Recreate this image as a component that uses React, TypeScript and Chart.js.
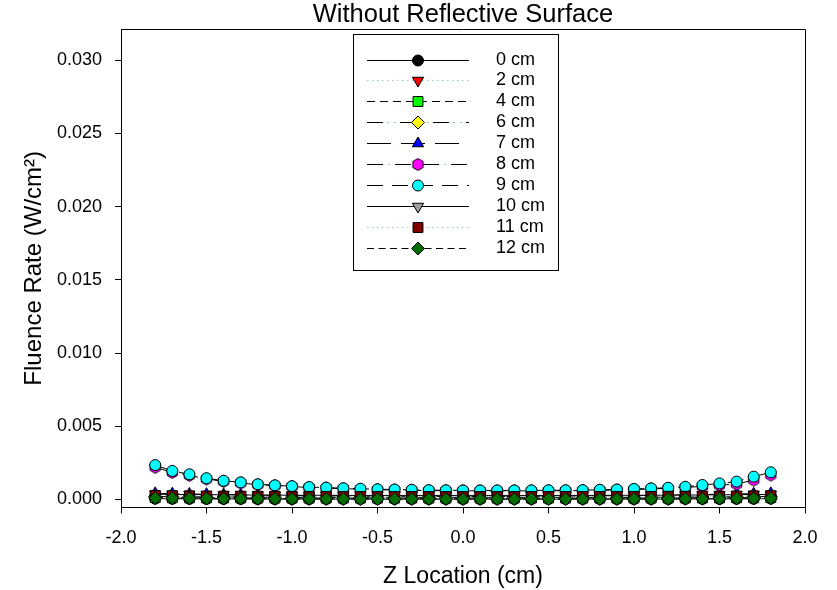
import React, { useEffect, useRef } from 'react';
import { Chart, registerables } from 'chart.js';

Chart.register(...registerables);

const chartTitle = 'Without Reflective Surface';
const xTitle = 'Z Location (cm)';
const yTitle = 'Fluence Rate (W/cm\u00B2)';

const xTicks = [-2.0, -1.5, -1.0, -0.5, 0.0, 0.5, 1.0, 1.5, 2.0];
const yTicks = [0.0, 0.005, 0.01, 0.015, 0.02, 0.025, 0.03];

const zLocations = [
  -1.8, -1.7, -1.6, -1.5, -1.4, -1.3, -1.2, -1.1, -1.0, -0.9, -0.8, -0.7, -0.6,
  -0.5, -0.4, -0.3, -0.2, -0.1, 0.0, 0.1, 0.2, 0.3, 0.4, 0.5, 0.6, 0.7, 0.8,
  0.9, 1.0, 1.1, 1.2, 1.3, 1.4, 1.5, 1.6, 1.7, 1.8,
];

const seriesLabels = ['0 cm', '2 cm', '4 cm', '6 cm', '7 cm', '8 cm', '9 cm', '10 cm', '11 cm', '12 cm'];

const cm0 = [
  0.00006, 0.00005, 0.00005, 0.00004, 0.00004, 0.00004, 0.00003, 0.00003, 0.00003, 0.00003,
  0.00003, 0.00003, 0.00003, 0.00003, 0.00003, 0.00003, 0.00003, 0.00003, 0.00003, 0.00003,
  0.00003, 0.00003, 0.00003, 0.00003, 0.00003, 0.00003, 0.00003, 0.00003, 0.00003, 0.00003,
  0.00003, 0.00004, 0.00004, 0.00004, 0.00005, 0.00005, 0.00006,
];
const cm2 = [
  0.00009, 0.00008, 0.00008, 0.00007, 0.00007, 0.00007, 0.00006, 0.00006, 0.00006, 0.00006,
  0.00006, 0.00006, 0.00006, 0.00006, 0.00006, 0.00006, 0.00006, 0.00006, 0.00006, 0.00006,
  0.00006, 0.00006, 0.00006, 0.00006, 0.00006, 0.00006, 0.00006, 0.00006, 0.00006, 0.00006,
  0.00006, 0.00007, 0.00007, 0.00007, 0.00008, 0.00008, 0.00009,
];
const cm4 = [
  0.00013, 0.00012, 0.00012, 0.00011, 0.00011, 0.00011, 0.0001, 0.0001, 0.0001, 0.0001,
  0.0001, 0.0001, 0.0001, 0.0001, 0.0001, 0.0001, 0.0001, 0.0001, 0.0001, 0.0001,
  0.0001, 0.0001, 0.0001, 0.0001, 0.0001, 0.0001, 0.0001, 0.0001, 0.0001, 0.0001,
  0.0001, 0.00011, 0.00011, 0.00011, 0.00012, 0.00012, 0.00013,
];
const cm6 = [
  0.00021, 0.0002, 0.00019, 0.00018, 0.00017, 0.00017, 0.00016, 0.00016, 0.00015, 0.00015,
  0.00015, 0.00015, 0.00015, 0.00015, 0.00015, 0.00015, 0.00015, 0.00015, 0.00015, 0.00015,
  0.00015, 0.00015, 0.00015, 0.00015, 0.00015, 0.00015, 0.00015, 0.00015, 0.00015, 0.00016,
  0.00016, 0.00017, 0.00017, 0.00018, 0.00019, 0.0002, 0.00021,
];
const cm7 = [
  0.00042, 0.0004, 0.00038, 0.00036, 0.00034, 0.00032, 0.0003, 0.00028, 0.00027, 0.00026,
  0.00025, 0.00024, 0.00023, 0.00022, 0.00022, 0.00021, 0.00021, 0.00021, 0.0002, 0.00021,
  0.00021, 0.00021, 0.00022, 0.00022, 0.00023, 0.00024, 0.00025, 0.00026, 0.00027, 0.00028,
  0.0003, 0.00032, 0.00034, 0.00036, 0.00038, 0.0004, 0.00042,
];
const cm8 = [
  0.0022, 0.00185, 0.00165, 0.0014, 0.00124, 0.00113, 0.00101, 0.00094, 0.00088, 0.00082,
  0.00078, 0.00074, 0.0007, 0.00067, 0.00065, 0.00063, 0.00061, 0.0006, 0.00059, 0.00059,
  0.00059, 0.00059, 0.00059, 0.0006, 0.0006, 0.00061, 0.00063, 0.00065, 0.00068, 0.00072,
  0.00076, 0.00082, 0.0009, 0.00098, 0.00105, 0.00133, 0.00167,
];
const cm9 = [
  0.00235, 0.00195, 0.00172, 0.00145, 0.00128, 0.00117, 0.00104, 0.00097, 0.00091, 0.00085,
  0.00081, 0.00077, 0.00073, 0.0007, 0.00068, 0.00066, 0.00064, 0.00063, 0.00062, 0.00062,
  0.00062, 0.00062, 0.00062, 0.00063, 0.00063, 0.00064, 0.00066, 0.00068, 0.00072, 0.00076,
  0.0008, 0.00087, 0.00099, 0.0011, 0.00122, 0.00156, 0.00186,
];
const cm10 = [
  0.00036, 0.00035, 0.00034, 0.00033, 0.00032, 0.00031, 0.0003, 0.0003, 0.00029, 0.00029,
  0.00029, 0.00028, 0.00028, 0.00028, 0.00028, 0.00028, 0.00028, 0.00028, 0.00028, 0.00028,
  0.00028, 0.00028, 0.00028, 0.00028, 0.00028, 0.00028, 0.00028, 0.00029, 0.00029, 0.00029,
  0.0003, 0.0003, 0.00031, 0.00032, 0.00033, 0.00034, 0.00035,
];
const cm11 = [
  0.00027, 0.00026, 0.00025, 0.00024, 0.00023, 0.00023, 0.00022, 0.00022, 0.00021, 0.00021,
  0.00021, 0.0002, 0.0002, 0.0002, 0.0002, 0.0002, 0.0002, 0.0002, 0.0002, 0.0002,
  0.0002, 0.0002, 0.0002, 0.0002, 0.0002, 0.0002, 0.0002, 0.00021, 0.00021, 0.00021,
  0.00022, 0.00022, 0.00023, 0.00023, 0.00024, 0.00025, 0.00026,
];
const cm12 = [
  0.0001, 0.00009, 0.00008, 0.00007, 0.00006, 0.00006, 0.00005, 0.00005, 0.00004, 0.00004,
  0.00004, 0.00004, 0.00003, 0.00003, 0.00003, 0.00003, 0.00003, 0.00003, 0.00003, 0.00003,
  0.00003, 0.00003, 0.00003, 0.00003, 0.00003, 0.00003, 0.00003, 0.00004, 0.00004, 0.00004,
  0.00004, 0.00005, 0.00005, 0.00006, 0.00007, 0.00008, 0.00009,
];

const seriesValues = [cm0, cm2, cm4, cm6, cm7, cm8, cm9, cm10, cm11, cm12];

const FONT = '"Liberation Sans", Arial, sans-serif';
const DOT = 'rgb(140,205,205)';

type Style = {
  fill: string;
  line: string;
  dash: number[];
  dots?: { dash: number[]; offset: number };
  marker: 'circle' | 'triangle' | 'rect' | 'rectRot' | 'hexagon';
  rotation: number;
  radius: number;
};

const styles: Style[] = [
  { fill: '#000000', line: '#000000', dash: [], marker: 'circle', rotation: 0, radius: 5.5 },
  { fill: '#ff0000', line: DOT, dash: [1.5, 3.5], marker: 'triangle', rotation: 180, radius: 6.5 },
  { fill: '#00ff00', line: '#000000', dash: [8, 5], marker: 'rect', rotation: 0, radius: 7 },
  { fill: '#ffff00', line: '#000000', dash: [16, 17], dots: { dash: [2, 5, 2, 24], offset: 13 }, marker: 'rectRot', rotation: 0, radius: 6.5 },
  { fill: '#0000ff', line: '#000000', dash: [24, 10], marker: 'triangle', rotation: 0, radius: 6.5 },
  { fill: '#ff00ff', line: '#000000', dash: [16, 12], dots: { dash: [2, 26], offset: 7 }, marker: 'hexagon', rotation: 0, radius: 6 },
  { fill: '#00ffff', line: '#000000', dash: [16, 9], marker: 'circle', rotation: 0, radius: 5.5 },
  { fill: '#a0a0a0', line: '#000000', dash: [], marker: 'triangle', rotation: 180, radius: 6.5 },
  { fill: '#800000', line: DOT, dash: [1.5, 3.5], marker: 'rect', rotation: 0, radius: 7 },
  { fill: '#006e00', line: '#000000', dash: [7, 4.5], marker: 'rectRot', rotation: 0, radius: 6.5 },
];

function makeHexagon(fill: string, r: number): HTMLCanvasElement {
  const size = Math.ceil(r * 2 + 3);
  const c = document.createElement('canvas');
  c.width = size;
  c.height = size;
  const ctx = c.getContext('2d')!;
  const cx = size / 2;
  const cy = size / 2;
  ctx.beginPath();
  for (let k = 0; k < 6; k++) {
    const a = -Math.PI / 2 + (k * Math.PI) / 3;
    const px = cx + Math.cos(a) * r;
    const py = cy + Math.sin(a) * r;
    if (k === 0) ctx.moveTo(px, py);
    else ctx.lineTo(px, py);
  }
  ctx.closePath();
  ctx.fillStyle = fill;
  ctx.fill();
  ctx.strokeStyle = '#000';
  ctx.lineWidth = 1;
  ctx.stroke();
  return c;
}

function drawMarker(ctx: CanvasRenderingContext2D, s: Style, x: number, y: number, hex: HTMLCanvasElement) {
  const r = s.radius;
  if (s.marker === 'hexagon') {
    ctx.drawImage(hex, x - hex.width / 2, y - hex.height / 2);
    return;
  }
  ctx.beginPath();
  if (s.marker === 'circle') {
    ctx.arc(x, y, r, 0, Math.PI * 2);
  } else if (s.marker === 'triangle') {
    let a = (s.rotation * Math.PI) / 180;
    ctx.moveTo(x + Math.sin(a) * r, y - Math.cos(a) * r);
    a += (2 * Math.PI) / 3;
    ctx.lineTo(x + Math.sin(a) * r, y - Math.cos(a) * r);
    a += (2 * Math.PI) / 3;
    ctx.lineTo(x + Math.sin(a) * r, y - Math.cos(a) * r);
  } else if (s.marker === 'rect') {
    const h = Math.SQRT1_2 * r;
    ctx.rect(x - h, y - h, 2 * h, 2 * h);
  } else if (s.marker === 'rectRot') {
    ctx.moveTo(x, y - r);
    ctx.lineTo(x + r, y);
    ctx.lineTo(x, y + r);
    ctx.lineTo(x - r, y);
  }
  ctx.closePath();
  ctx.fillStyle = s.fill;
  ctx.fill();
  ctx.strokeStyle = '#000';
  ctx.lineWidth = 1;
  ctx.stroke();
}

export default function App() {
  const ref = useRef<HTMLCanvasElement | null>(null);

  useEffect(() => {
    if (!ref.current) return;
    const hexImg = makeHexagon(styles[5].fill, styles[5].radius);

    const datasets = seriesLabels.map((label, i) => {
      const s = styles[i];
      return {
        label,
        data: zLocations.map((z, k) => ({ x: z, y: seriesValues[i][k] })),
        borderColor: s.line,
        borderWidth: 1,
        borderDash: s.dash,
        backgroundColor: s.fill,
        pointBackgroundColor: s.fill,
        pointBorderColor: '#000000',
        pointBorderWidth: 1,
        pointStyle: s.marker === 'hexagon' ? hexImg : s.marker,
        pointRotation: s.rotation,
        pointRadius: s.radius,
        pointHoverRadius: s.radius,
        tension: 0,
        fill: false,
        order: seriesLabels.length - 1 - i,
      };
    });

    const framePlugin = {
      id: 'frameAndLegend',
      afterDraw(chart: any) {
        const ctx: CanvasRenderingContext2D = chart.ctx;
        const a = chart.chartArea;
        ctx.save();
        ctx.strokeStyle = '#000';
        ctx.lineWidth = 1;
        ctx.setLineDash([]);
        ctx.beginPath();
        ctx.moveTo(Math.round(a.left) + 0.5, Math.round(a.top) + 0.5);
        ctx.lineTo(Math.round(a.right) + 0.5, Math.round(a.top) + 0.5);
        ctx.lineTo(Math.round(a.right) + 0.5, Math.round(a.bottom) + 0.5);
        ctx.stroke();

        // legend box
        const bx = 353.5, by = 34.5, bw = 205, bh = 236;
        ctx.fillStyle = '#fff';
        ctx.fillRect(bx, by, bw, bh);
        ctx.strokeRect(bx, by, bw, bh);
        const lineX0 = 367, lineX1 = 469, markX = 418, textX = 496;
        ctx.font = `18px ${FONT}`;
        ctx.textBaseline = 'middle';
        ctx.textAlign = 'left';
        seriesLabels.forEach((label, i) => {
          const s = styles[i];
          const y = Math.round(59.5 + i * 20.9) + 0.5;
          ctx.beginPath();
          ctx.setLineDash(s.dash);
          ctx.lineDashOffset = 0;
          ctx.strokeStyle = s.line;
          ctx.lineWidth = 1;
          ctx.moveTo(lineX0, y);
          ctx.lineTo(lineX1, y);
          ctx.stroke();
          if (s.dots) {
            ctx.beginPath();
            ctx.setLineDash(s.dots.dash);
            ctx.lineDashOffset = s.dots.offset;
            ctx.strokeStyle = DOT;
            ctx.moveTo(lineX0, y);
            ctx.lineTo(lineX1, y);
            ctx.stroke();
            ctx.lineDashOffset = 0;
          }
          ctx.setLineDash([]);
          drawMarker(ctx, s, markX, y, hexImg);
          ctx.fillStyle = '#000';
          ctx.fillText(label, textX, y);
        });
        ctx.restore();
      },
    };

    const chart = new Chart(ref.current, {
      type: 'line',
      data: { datasets: datasets as any },
      plugins: [framePlugin],
      options: {
        animation: false,
        responsive: false,
        devicePixelRatio: 1,
        layout: { padding: { left: 0, right: 32, top: 0, bottom: 0 } },
        plugins: {
          legend: { display: false },
          tooltip: { enabled: false },
          title: {
            display: true,
            text: chartTitle,
            color: '#000',
            fullSize: false,
            font: { family: FONT, size: 25.5, weight: 'normal', lineHeight: 1.1 },
            padding: { top: 1, bottom: 0 },
          },
        },
        scales: {
          x: {
            type: 'linear',
            min: -2,
            max: 2,
            afterBuildTicks: (s: any) => {
              s.ticks = xTicks.map((v) => ({ value: v }));
            },
            afterFit: (s: any) => {
              s.height = 82.5;
            },
            ticks: {
              color: '#000',
              font: { family: FONT, size: 18 },
              padding: 14,
              maxRotation: 0,
              autoSkip: false,
              callback: (v: any) => Number(v).toFixed(1),
            },
            grid: {
              display: true,
              drawOnChartArea: false,
              drawTicks: true,
              tickLength: 6,
              color: '#000',
            },
            border: { display: true, color: '#000', width: 1 },
            title: {
              display: true,
              text: xTitle,
              color: '#000',
              font: { family: FONT, size: 23, lineHeight: 1.2 },
              padding: { top: 0, bottom: 0 },
            },
          },
          y: {
            type: 'linear',
            min: -0.000546,
            max: 0.032116,
            afterBuildTicks: (s: any) => {
              s.ticks = yTicks.map((v) => ({ value: v }));
            },
            afterFit: (s: any) => {
              s.width = 121;
            },
            ticks: {
              color: '#000',
              font: { family: FONT, size: 18 },
              padding: 13,
              autoSkip: false,
              callback: (v: any) => Number(v).toFixed(3),
            },
            grid: {
              display: true,
              drawOnChartArea: false,
              drawTicks: true,
              tickLength: 6,
              color: '#000',
            },
            border: { display: true, color: '#000', width: 1 },
            title: {
              display: true,
              text: yTitle,
              color: '#000',
              font: { family: FONT, size: 24, lineHeight: 1.2 },
              padding: { top: 19.6, bottom: 0 },
            },
          },
        },
      },
    });

    return () => chart.destroy();
  }, []);

  return (
    <div style={{ position: 'fixed', left: 0, top: 0, width: 837, height: 590, background: '#fff' }}>
      <canvas ref={ref} width={837} height={590} style={{ display: 'block' }} />
    </div>
  );
}
